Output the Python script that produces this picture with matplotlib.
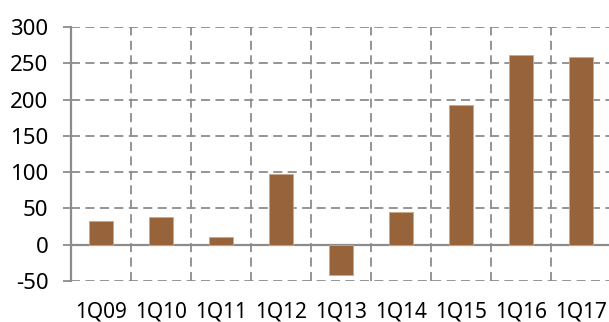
import numpy as np
import matplotlib.pyplot as plt

plt.rcParams['font.family'] = ['Noto Sans', 'DejaVu Sans']
plt.rcParams['axes.unicode_minus'] = False  # plain hyphen for -50

# data
quarters = ['1Q09', '1Q10', '1Q11', '1Q12', '1Q13', '1Q14', '1Q15', '1Q16', '1Q17']
values = [33, 38, 10.5, 97.5, -42, 44.5, 193, 261, 259]

fig = plt.figure(figsize=(6.09, 3.22), dpi=100)
ax = fig.add_axes([71 / 609, 41 / 322, 540 / 609, 254 / 322])

x = np.arange(len(quarters))
ax.bar(x, values, width=0.4, color='#96633a', edgecolor='#c9a98c', linewidth=0.6, zorder=3)

ax.set_xlim(-0.5, len(quarters) - 0.5)
ax.set_ylim(-50, 300)
ax.set_yticks(np.arange(-50, 301, 50))
ax.set_xticks(x)
ax.set_xticklabels(quarters)
ax.set_xticks(np.arange(0.5, len(quarters) - 0.5, 1), minor=True)

gc = '#8c8c8c'
ax.grid(True, axis='y', which='major', color=gc, linestyle=(0, (5, 3)), linewidth=1.3, zorder=0)
ax.grid(True, axis='x', which='minor', color=gc, linestyle=(0, (5, 3)), linewidth=1.3, zorder=0)
ax.axhline(0, color=gc, linewidth=1.6, zorder=2)

for s in ['top', 'right', 'bottom']:
    ax.spines[s].set_visible(False)
ax.spines['left'].set_color(gc)
ax.spines['left'].set_linewidth(1.6)

ax.tick_params(axis='y', length=5.8, width=1.3, color=gc, labelsize=16, pad=10.5)
ax.tick_params(axis='x', which='major', length=0, labelsize=15, pad=15)
ax.tick_params(axis='x', which='minor', length=0)

plt.savefig('out.png', dpi=100)
